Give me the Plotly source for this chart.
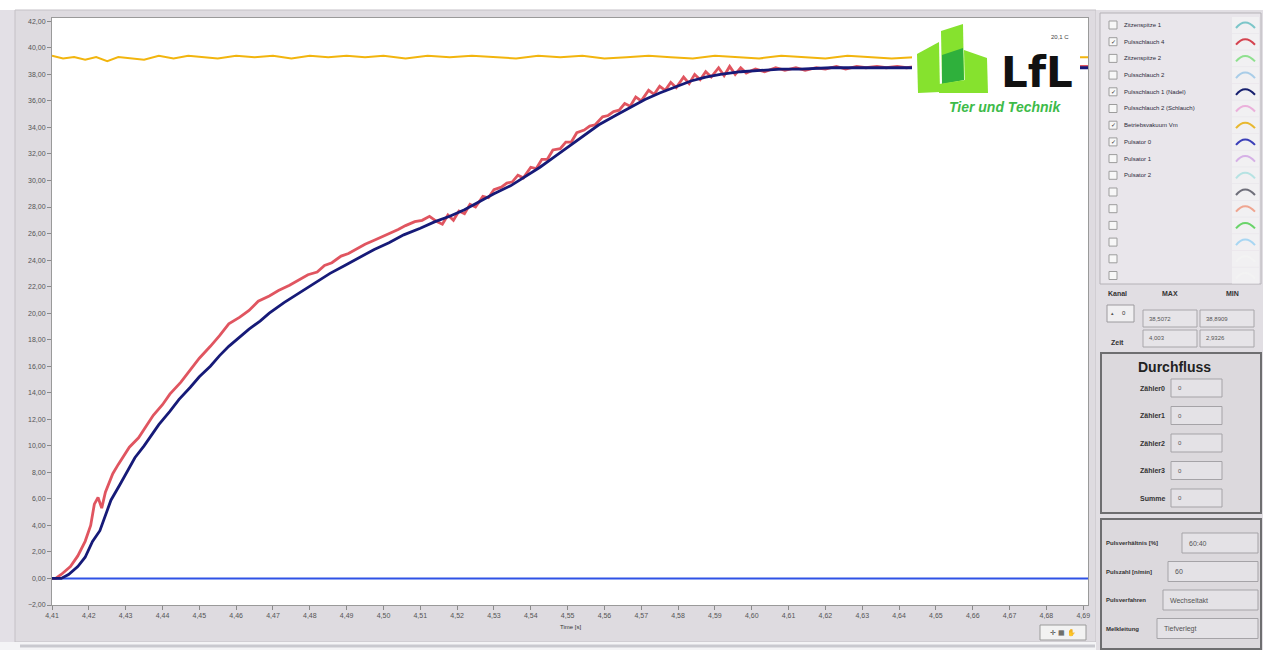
import plotly.graph_objects as go

# ---------------- data ----------------
x_ticks = [4.41, 4.42, 4.43, 4.44, 4.45, 4.46, 4.47, 4.48, 4.49, 4.50,
           4.51, 4.52, 4.53, 4.54, 4.55, 4.56, 4.57, 4.58, 4.59, 4.60,
           4.61, 4.62, 4.63, 4.64, 4.65, 4.66, 4.67, 4.68, 4.69]
y_ticks = [-2, 0, 2, 4, 6, 8, 10, 12, 14, 16, 18, 20, 22, 24, 26, 28,
           30, 32, 34, 36, 38, 40, 42]

# Pulsschlauch 4 (red)
t_red = [4.4100, 4.4110, 4.4125, 4.4150, 4.4170, 4.4190, 4.4205, 4.4215, 4.4225, 4.4235,
         4.4245, 4.4265, 4.4280, 4.4295, 4.4310, 4.4335, 4.4355, 4.4375, 4.4400, 4.4420,
         4.4450, 4.4475, 4.4500, 4.4530, 4.4555, 4.4580, 4.4610, 4.4635, 4.4660, 4.4690,
         4.4715, 4.4745, 4.4770, 4.4795, 4.4820, 4.4840, 4.4860, 4.4885, 4.4905, 4.4925,
         4.4950, 4.4975, 4.5000, 4.5020, 4.5040, 4.5060, 4.5085, 4.5105, 4.5125, 4.5145,
         4.5160, 4.5175, 4.5190, 4.5205, 4.5220, 4.5235, 4.5250, 4.5270, 4.5285, 4.5300,
         4.5320, 4.5335, 4.5350, 4.5365, 4.5380, 4.5400, 4.5415, 4.5430, 4.5445, 4.5460,
         4.5480, 4.5495, 4.5510, 4.5525, 4.5545, 4.5560, 4.5575, 4.5595, 4.5610, 4.5625,
         4.5640, 4.5655, 4.5670, 4.5685, 4.5700, 4.5720, 4.5735, 4.5750, 4.5765, 4.5780,
         4.5795, 4.5815, 4.5830, 4.5845, 4.5860, 4.5875, 4.5890, 4.5910, 4.5925, 4.5940,
         4.5955, 4.5970, 4.5985, 4.6010, 4.6035, 4.6065, 4.6090, 4.6120, 4.6145, 4.6175,
         4.6200, 4.6230, 4.6255, 4.6285, 4.6310, 4.6340, 4.6365, 4.6395, 4.6420, 4.6450,
         4.6600, 4.6800, 4.6913]
v_red = [0.0, 0.0, 0.3, 0.9, 1.7, 2.8, 4.0, 5.6, 6.1, 5.3,
         6.5, 7.9, 8.6, 9.3, 9.9, 10.6, 11.5, 12.3, 13.1, 13.9,
         14.8, 15.7, 16.6, 17.5, 18.3, 19.2, 19.7, 20.2, 20.9, 21.3,
         21.7, 22.1, 22.5, 22.9, 23.1, 23.6, 23.8, 24.3, 24.5, 24.8,
         25.2, 25.5, 25.8, 26.1, 26.3, 26.6, 26.9, 27.0, 27.3, 26.9,
         26.7, 27.4, 27.0, 27.7, 27.5, 28.2, 28.0, 28.8, 28.7, 29.3,
         29.5, 29.8, 29.9, 30.4, 30.2, 31.0, 30.9, 31.6, 31.6, 32.3,
         32.4, 32.9, 32.9, 33.6, 33.8, 34.1, 34.2, 34.8, 34.9, 35.2,
         35.3, 35.8, 35.6, 36.3, 36.0, 36.8, 36.5, 37.1, 36.8, 37.4,
         37.0, 37.8, 37.3, 38.0, 37.6, 38.2, 37.8, 38.5, 37.9, 38.6,
         38.0, 38.5, 38.1, 38.4, 38.2, 38.5, 38.3, 38.5, 38.3, 38.5,
         38.4, 38.6, 38.4, 38.6, 38.5, 38.6, 38.5, 38.6, 38.5, 38.6,
         38.6, 38.6, 38.6]

# Pulsschlauch 1 (Nadel) (navy)
t_navy = [4.4100, 4.4125, 4.4145, 4.4170, 4.4190, 4.4210, 4.4230, 4.4245, 4.4260, 4.4285,
          4.4305, 4.4325, 4.4350, 4.4370, 4.4390, 4.4420, 4.4445, 4.4475, 4.4500, 4.4530,
          4.4555, 4.4580, 4.4610, 4.4635, 4.4665, 4.4690, 4.4730, 4.4775, 4.4815, 4.4855,
          4.4895, 4.4935, 4.4975, 4.5015, 4.5055, 4.5100, 4.5140, 4.5180, 4.5220, 4.5260,
          4.5300, 4.5345, 4.5385, 4.5425, 4.5465, 4.5505, 4.5545, 4.5585, 4.5630, 4.5670,
          4.5710, 4.5750, 4.5795, 4.5835, 4.5875, 4.5915, 4.5970, 4.6025, 4.6080, 4.6130,
          4.6215, 4.6295, 4.6380, 4.6450, 4.6700, 4.6913]
v_navy = [0.0, 0.0, 0.3, 0.9, 1.6, 2.8, 3.6, 4.8, 5.9, 7.1,
          8.1, 9.1, 10.0, 10.8, 11.6, 12.6, 13.5, 14.4, 15.2, 16.0,
          16.8, 17.5, 18.2, 18.8, 19.4, 20.0, 20.8, 21.6, 22.3, 23.0,
          23.6, 24.2, 24.8, 25.3, 25.9, 26.4, 26.9, 27.3, 27.8, 28.4,
          29.0, 29.6, 30.3, 31.0, 31.8, 32.6, 33.4, 34.2, 34.9, 35.5,
          36.1, 36.6, 37.1, 37.5, 37.8, 38.0, 38.2, 38.3, 38.4, 38.4,
          38.5, 38.5, 38.5, 38.5, 38.5, 38.5]

# Betriebsvakuum Vm (yellow)
t_vac = [4.4100, 4.4130, 4.4160, 4.4190, 4.4220, 4.4250, 4.4280, 4.4310, 4.4350, 4.4390,
         4.4430, 4.4470, 4.4510, 4.4550, 4.4600, 4.4650, 4.4700, 4.4750, 4.4800, 4.4850,
         4.4900, 4.4950, 4.5000, 4.5060, 4.5120, 4.5180, 4.5240, 4.5300, 4.5360, 4.5420,
         4.5480, 4.5540, 4.5600, 4.5660, 4.5720, 4.5780, 4.5840, 4.5900, 4.5960, 4.6020,
         4.6080, 4.6140, 4.6200, 4.6260, 4.6320, 4.6380, 4.6440, 4.6600, 4.6800, 4.6913]
v_vac = [39.4, 39.2, 39.3, 39.1, 39.3, 39.0, 39.3, 39.2, 39.1, 39.4,
         39.2, 39.4, 39.3, 39.2, 39.4, 39.3, 39.4, 39.2, 39.4, 39.3,
         39.4, 39.3, 39.4, 39.2, 39.4, 39.3, 39.4, 39.3, 39.2, 39.4,
         39.3, 39.4, 39.2, 39.3, 39.4, 39.3, 39.2, 39.4, 39.3, 39.2,
         39.4, 39.3, 39.2, 39.4, 39.3, 39.2, 39.3, 39.3, 39.3, 39.3]

# Pulsator 0 (blue, flat)
t_puls0 = [4.4100, 4.6913]
v_puls0 = [0.0, 0.0]

legend_names = ["Zitzenspitze 1", "Pulsschlauch 4", "Zitzenspitze 2", "Pulsschlauch 2",
                "Pulsschlauch 1 (Nadel)", "Pulsschlauch 2 (Schlauch)", "Betriebsvakuum Vm",
                "Pulsator 0", "Pulsator 1", "Pulsator 2", "", "", "", "", "", ""]
legend_checked = [False, True, False, False, True, False, True, True,
                  False, False, False, False, False, False, False, False]
legend_colors = ["#7cc6c9", "#d4434f", "#8fe08f", "#a9cde8", "#17206e", "#ebb0db",
                 "#e8b830", "#3b3fb8", "#d6b0e6", "#b6e3e3", "#6f6f7a", "#efa590",
                 "#6ad46a", "#a8d6f2", "#f3f3f3", "#f3f3f3"]

durch_labels = ["Zähler0", "Zähler1", "Zähler2", "Zähler3", "Summe"]
durch_values = ["0", "0", "0", "0", "0"]
param_labels = ["Pulsverhältnis [%]", "Pulszahl [n/min]", "Pulsverfahren", "Melkleitung"]
param_values = ["60:40", "60", "Wechseltakt", "Tiefverlegt"]
max_min = [["38,5072", "38,8909"], ["4,003", "2,9326"]]

# ---------------- layout helpers ----------------
W, H = 1263, 650
L, R, T, B = 52, 1088, 18, 605
FONT = "Liberation Sans"


def px(x):
    return (x - L) / (R - L)


def py(y):
    return (B - y) / (B - T)


shapes = []
annotations = []


def rect(x0, y0, x1, y1, fill, line="rgba(0,0,0,0)", width=1, layer="below"):
    shapes.append(dict(type="rect", xref="paper", yref="paper",
                       x0=px(x0), x1=px(x1), y0=py(y1), y1=py(y0),
                       fillcolor=fill, line=dict(color=line, width=width), layer=layer))


def line(x0, y0, x1, y1, color, width=1, layer="below"):
    shapes.append(dict(type="line", xref="paper", yref="paper",
                       x0=px(x0), x1=px(x1), y0=py(y0), y1=py(y1),
                       line=dict(color=color, width=width), layer=layer))


def poly(points, fill, layer="above"):
    d = "M " + " L ".join(f"{px(a):.5f},{py(b):.5f}" for a, b in points) + " Z"
    shapes.append(dict(type="path", xref="paper", yref="paper", path=d,
                       fillcolor=fill, line=dict(width=0), layer=layer))


def squiggle(x0, yc, color):
    d = (f"M {px(x0):.5f},{py(yc + 3):.5f} "
         f"Q {px(x0 + 9):.5f},{py(yc - 8):.5f} {px(x0 + 19):.5f},{py(yc + 3):.5f}")
    shapes.append(dict(type="path", xref="paper", yref="paper", path=d,
                       line=dict(color=color, width=2), layer="above"))


def text(x, y, s, size=7, color="#333", bold=False, anchor="left", family=FONT, italic=False):
    if bold:
        s = f"<b>{s}</b>"
    if italic:
        s = f"<i>{s}</i>"
    annotations.append(dict(xref="paper", yref="paper", x=px(x), y=py(y), text=s,
                            showarrow=False, xanchor=anchor, yanchor="middle",
                            font=dict(size=size, color=color, family=family)))


# ---------------- background panels ----------------
rect(0, 0, W, 10, "#ffffff")
rect(15, 10, 1096, 642, "#dedbe0", line="#c4c1c6")
rect(L, T, R, B, "#ffffff")
rect(0, 642, W, H, "#f4f4f6")
line(20, 646, 1095, 646, "#c9c9cf", 3)

# right panel
rect(1096, 10, W, H, "#e1dee3")
rect(1100, 13, 1261, 284, "#e9e6eb", line="#b5b2b7")
for i, name in enumerate(legend_names):
    yc = 25 + i * 16.7
    rect(1109, yc - 4, 1117, yc + 4, "#f7f7f7", line="#9d9d9d", width=1, layer="above")
    if legend_checked[i]:
        text(1113, yc, "✓", size=6, color="#333", anchor="center")
    if name:
        text(1122, yc, name, size=6, color="#2a2a3a")
    rect(1232, yc - 8, 1259, yc + 8, "#f1f0f2", layer="above")
    squiggle(1236, yc, legend_colors[i])

# Kanal / MAX / MIN
text(1117, 293, "Kanal", size=7, bold=True, anchor="center")
text(1170, 293, "MAX", size=7, bold=True, anchor="center")
text(1232, 293, "MIN", size=7, bold=True, anchor="center")
rect(1107, 305, 1134, 322, "#f0eff1", line="#9c9a9e", layer="above")
text(1112, 313, "▴", size=5, color="#555", anchor="center")
text(1124, 313, "0", size=6, color="#333", anchor="center")
text(1117, 342, "Zeit", size=7, bold=True, anchor="center")
for r, yrow in enumerate([310, 330]):
    rect(1143, yrow, 1197, yrow + 17, "#e6e4e8", line="#a8a6aa", layer="above")
    rect(1200, yrow, 1254, yrow + 17, "#e6e4e8", line="#a8a6aa", layer="above")
    text(1147, yrow + 8.5, max_min[r][0], size=6, color="#555")
    text(1204, yrow + 8.5, max_min[r][1], size=6, color="#555")

# Durchfluss
rect(1101, 353, 1261, 513, "#dcd9dd", line="#6e6e70", width=2)
text(1174, 367, "Durchfluss", size=14, bold=True, anchor="center", color="#222")
for i, (lab, val) in enumerate(zip(durch_labels, durch_values)):
    yc = 388 + i * 27.5
    text(1167, yc, lab, size=7, bold=True, anchor="right", color="#333")
    rect(1171, yc - 9, 1222, yc + 9, "#e4e2e6", line="#a5a3a7", layer="above")
    text(1176, yc, val, size=6, color="#555")

# Parameters
rect(1101, 519, 1261, 649, "#dcd9dd", line="#6e6e70", width=2)
param_box_x = [1182, 1168, 1163, 1157]
for i, (lab, val) in enumerate(zip(param_labels, param_values)):
    yc = 543 + i * 28.5
    text(1104, yc, lab, size=6, bold=True, color="#333")
    rect(param_box_x[i], yc - 10, 1258, yc + 10, "#e4e2e6", line="#a5a3a7", layer="above")
    text(param_box_x[i] + 5, yc, val, size=7, color="#555")

# graph palette button
rect(1040, 625, 1086, 640, "#f2f2f2", line="#9a9a9a")
text(1063, 632.5, "✛ ▦ ✋", size=7, color="#444", anchor="center")

# ---------------- logo (covers the curves) ----------------
rect(912, 20, 1080, 118, "#ffffff", layer="above")
poly([(917, 54), (939, 42), (940, 92), (918, 93)], "#86e22e")
poly([(941, 31), (963, 24), (964, 80), (942, 84)], "#86e22e")
poly([(942, 55), (963, 48), (964, 80), (942, 84)], "#2fb03c")
poly([(964, 50), (987, 58), (988, 93), (965, 93)], "#86e22e")
poly([(939, 84), (965, 80), (965, 93), (939, 93)], "#86e22e")
text(1037, 73, "LfL", size=42, bold=True, color="#111", anchor="center", family="DejaVu Sans")
text(1005, 107, "Tier und Technik", size=14, bold=True, italic=True, color="#3dbb49",
     anchor="center", family="Liberation Sans")
text(1060, 37, "20,1 C", size=6, color="#444", anchor="center")

# axis title
text(570, 627, "Time [s]", size=6, color="#333", anchor="center")

# ---------------- traces ----------------
fig = go.Figure()
fig.add_trace(go.Scatter(x=t_puls0, y=v_puls0, mode="lines", name="Pulsator 0",
                         line=dict(color="#2f52e6", width=2)))
fig.add_trace(go.Scatter(x=t_vac, y=v_vac, mode="lines", name="Betriebsvakuum Vm",
                         line=dict(color="#f2b50e", width=2)))
fig.add_trace(go.Scatter(x=t_red, y=v_red, mode="lines", name="Pulsschlauch 4",
                         line=dict(color="#e05560", width=2.8)))
fig.add_trace(go.Scatter(x=t_navy, y=v_navy, mode="lines", name="Pulsschlauch 1 (Nadel)",
                         line=dict(color="#161a78", width=2.8)))

axis_common = dict(showgrid=False, zeroline=False, showline=True, mirror=True,
                   linecolor="#9a9a9a", linewidth=1, ticks="outside", ticklen=4,
                   tickcolor="#8a8a8a", tickfont=dict(size=7, color="#555", family=FONT),
                   tickformat=".2f")

fig.update_layout(
    width=W, height=H, autosize=False,
    margin=dict(l=L, r=W - R, t=T, b=H - B),
    paper_bgcolor="#e3e0e6", plot_bgcolor="#ffffff",
    separators=",.",
    showlegend=False,
    xaxis=dict(range=[4.41, 4.6913], tickvals=x_ticks, **axis_common),
    yaxis=dict(range=[-2, 42.25], tickvals=y_ticks, **axis_common),
    shapes=shapes, annotations=annotations,
)

fig.write_html("out.html", config={"displayModeBar": False},
               post_script="document.body.style.margin='0';")
